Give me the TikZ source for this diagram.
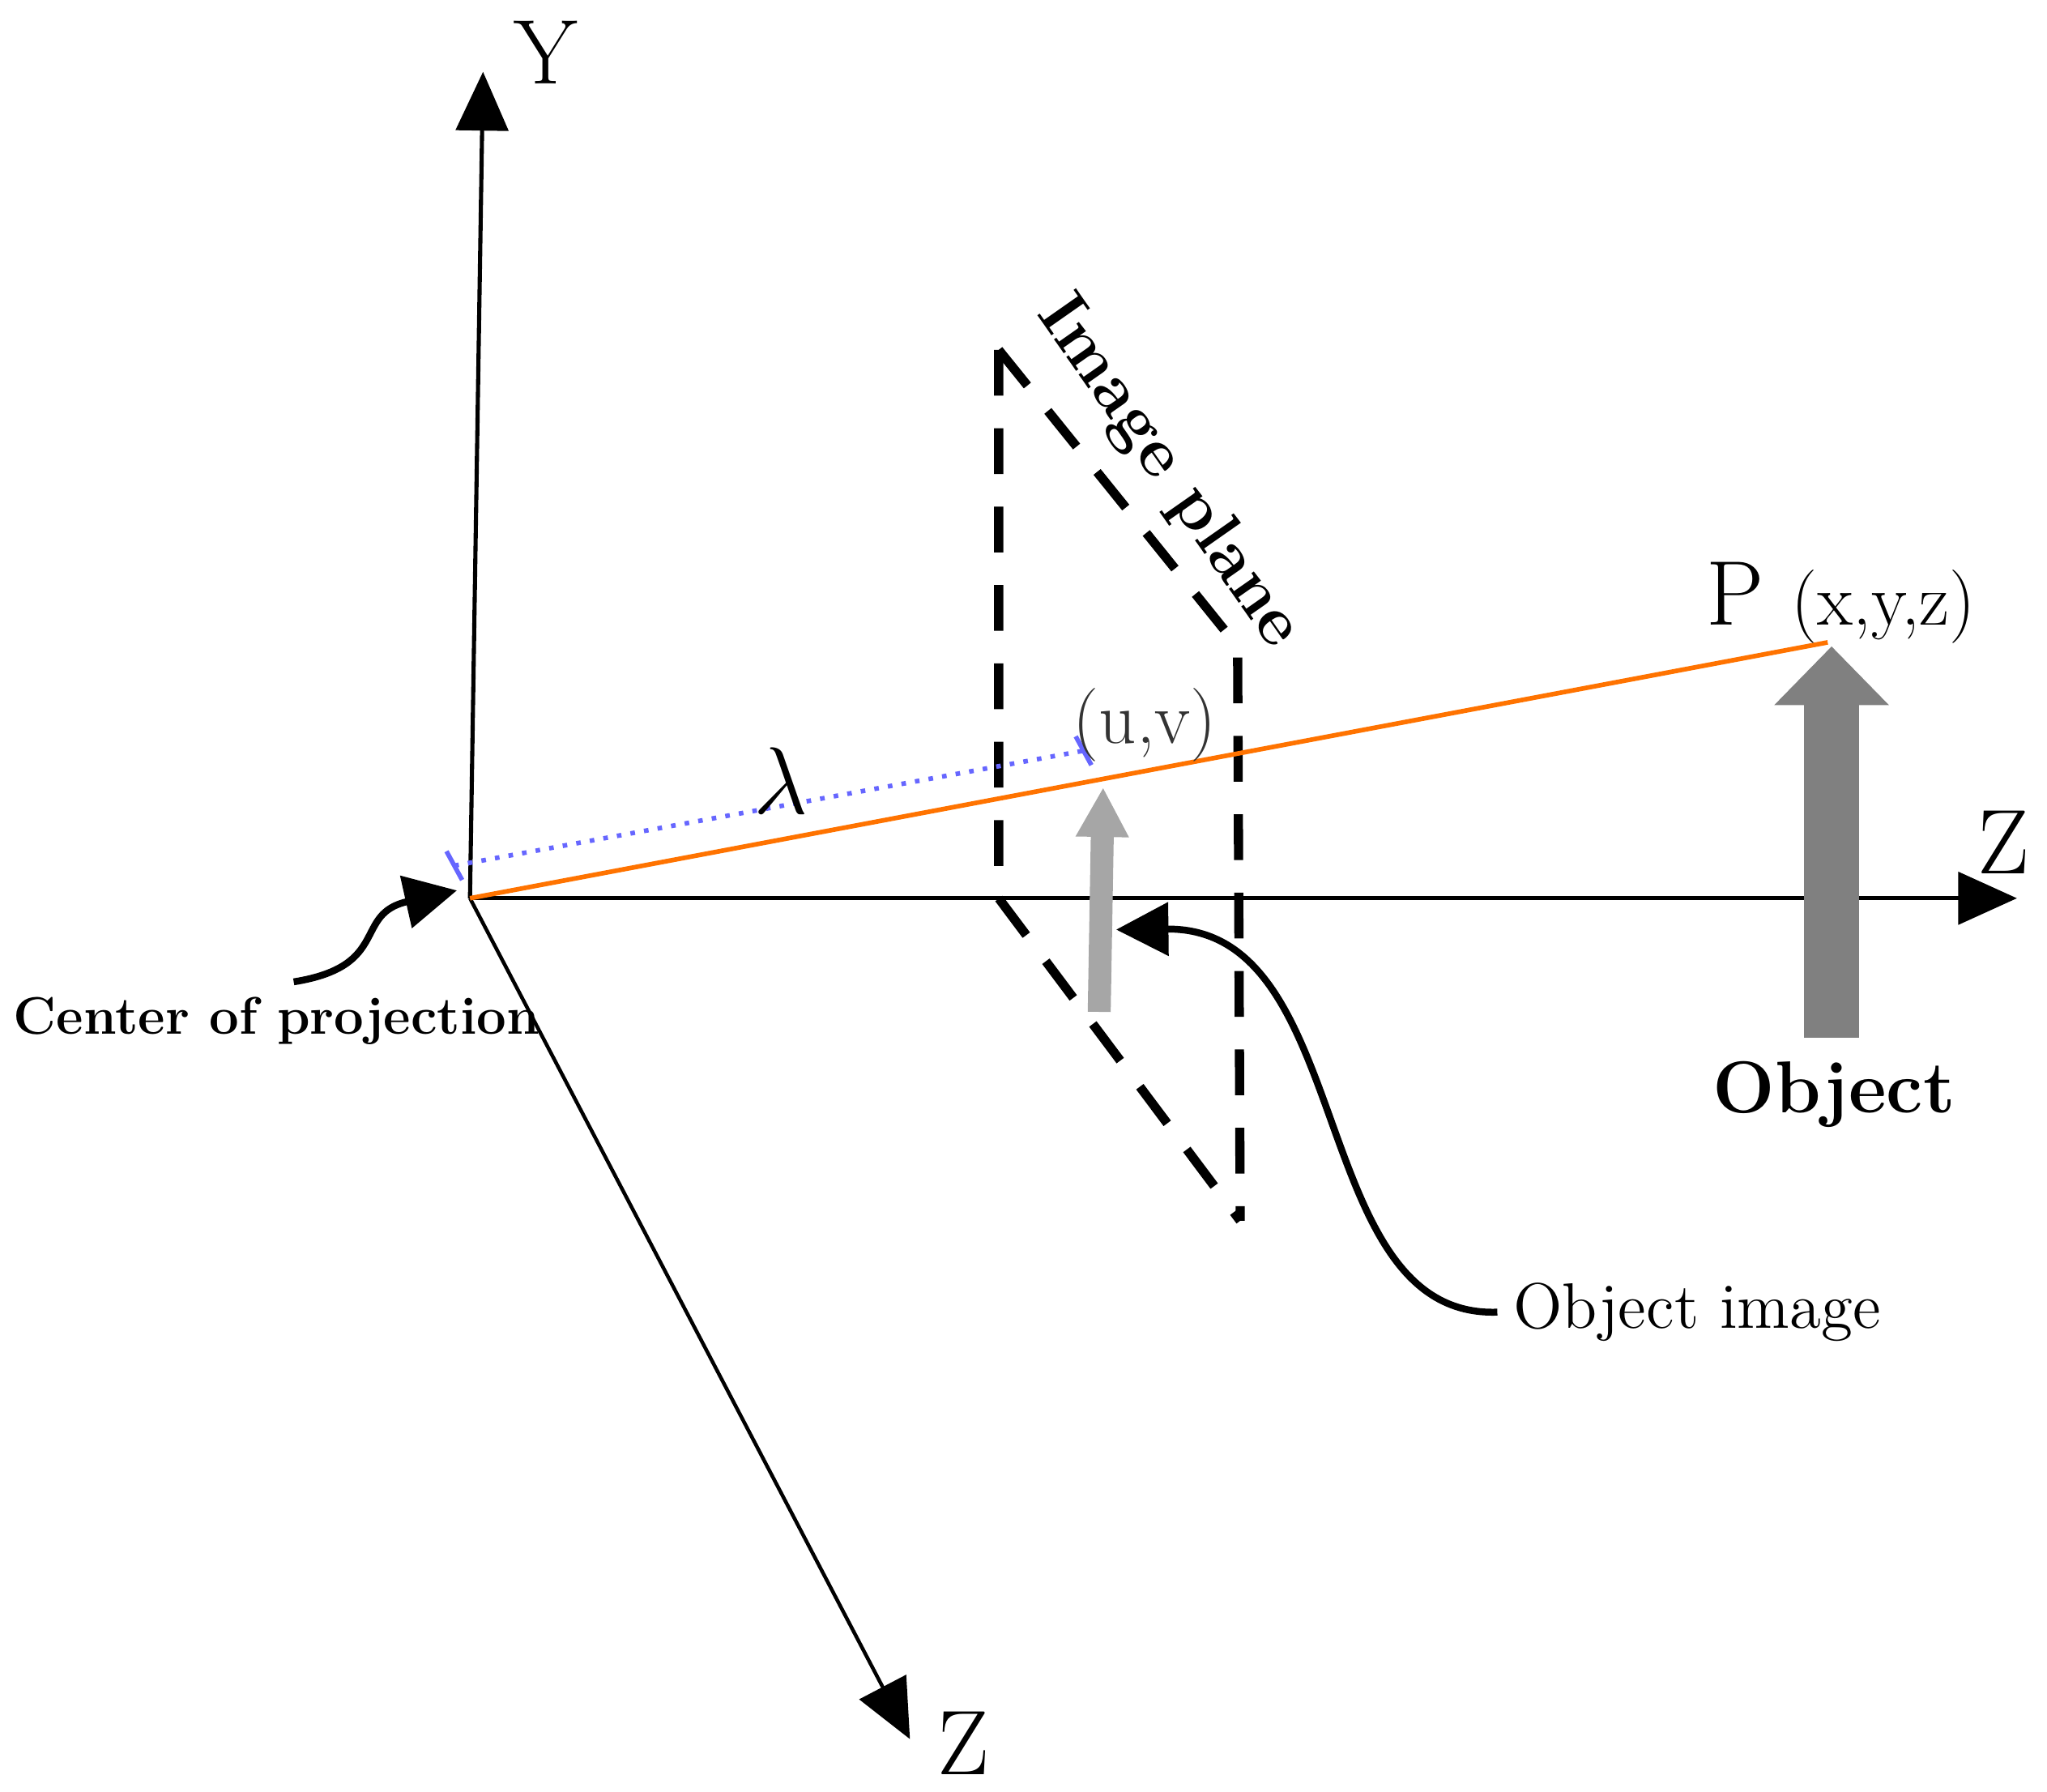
\documentclass[tikz,border=0pt]{standalone}
\usetikzlibrary{arrows.meta}
\begin{document}
\begin{tikzpicture}[x=0.01cm,y=-0.01cm,
  axis/.style={line width=1.2pt,-{Triangle[length=0.45cm,width=0.4cm]}},
  planedash/.style={line width=2pt,dash pattern=on 0.35cm off 0.25cm},
  lbl/.style={font=\fontsize{14}{16}\selectfont},
  big/.style={font=\fontsize{20}{22}\selectfont}]
\useasboundingbox (0,0) rectangle (1568,1372);
\coordinate (O) at (360,688);
\coordinate (Yt) at (370,55);
\coordinate (Zt) at (1545,688);
\coordinate (Zd) at (697,1332);
\draw[axis,line width=0.9pt] (O) -- (Yt);
\draw[axis,line width=0.9pt] (O) -- (Zt);
\draw[axis,line width=0.8pt] (O) -- (Zd);
\node[big] (ylab) at (418,40) {Y};
\node[big] (zlab) at (1535,645) {Z};
\node[big] (zlab2) at (738,1335) {Z};
% image plane
\coordinate (p1) at (765,268);
\coordinate (p2) at (765,688);
\coordinate (p3) at (950,935);
\coordinate (p4) at (948,495);
\draw[planedash] (p1) -- (p2) -- (p3);
\draw[planedash] (p1) -- (p4) -- (p3);
\node[font=\bfseries\fontsize{15}{18}\selectfont,rotate=-55] (ip) at (895,362) {Image plane};
% rays
\coordinate (P) at (1400,492);
\draw[orange!90!red,line width=1pt] (O) -- (P);
\coordinate (b1) at (348,663);
\coordinate (b2) at (830,575);
\draw[blue!60,line width=1pt,dotted] (b1) -- (b2);
\draw[blue!60,line width=1pt] (342,652) -- (354,674);
\draw[blue!60,line width=1pt] (824,564) -- (836,586);
\node[big] (lam) at (598,598) {$\lambda$};
\node[font=\fontsize{16}{18}\selectfont,text=black!80] (uv) at (877,555) {(u,v)};
\node[big] (pl) at (1410,462) {P {\fontsize{16}{18}\selectfont(x,y,z)}};
% arrows
\coordinate (ia0) at (842,775);
\coordinate (ia1) at (845,603);
\draw[black!35,line width=5pt,-{Triangle[length=0.38cm,width=0.38cm]}] (ia0) -- (ia1);
\coordinate (oa0) at (1403,795);
\coordinate (oa1) at (1403,495);
\draw[black!50,line width=12pt,-{Triangle[length=0.45cm,width=0.85cm]}] (oa0) -- (oa1);
\node[font=\bfseries\fontsize{16}{18}\selectfont] (obj) at (1405,838) {Object};
% curved annotations
\node[lbl] (oi) at (1300,1005) {Object image};
\draw[line width=1.5pt,-{Triangle[length=0.4cm,width=0.4cm]}] (oi.west) .. controls (1000,1010) and (1040,710) .. (855,712);
\node[font=\bfseries\fontsize{11.5}{14}\selectfont,inner sep=0pt] (cp) at (212,782) {Center of projection};
\draw[line width=1.5pt,-{Triangle[length=0.4cm,width=0.4cm]}] (225,752) .. controls (300,740) and (270,700) .. (350,682);
\end{tikzpicture}
\end{document}
